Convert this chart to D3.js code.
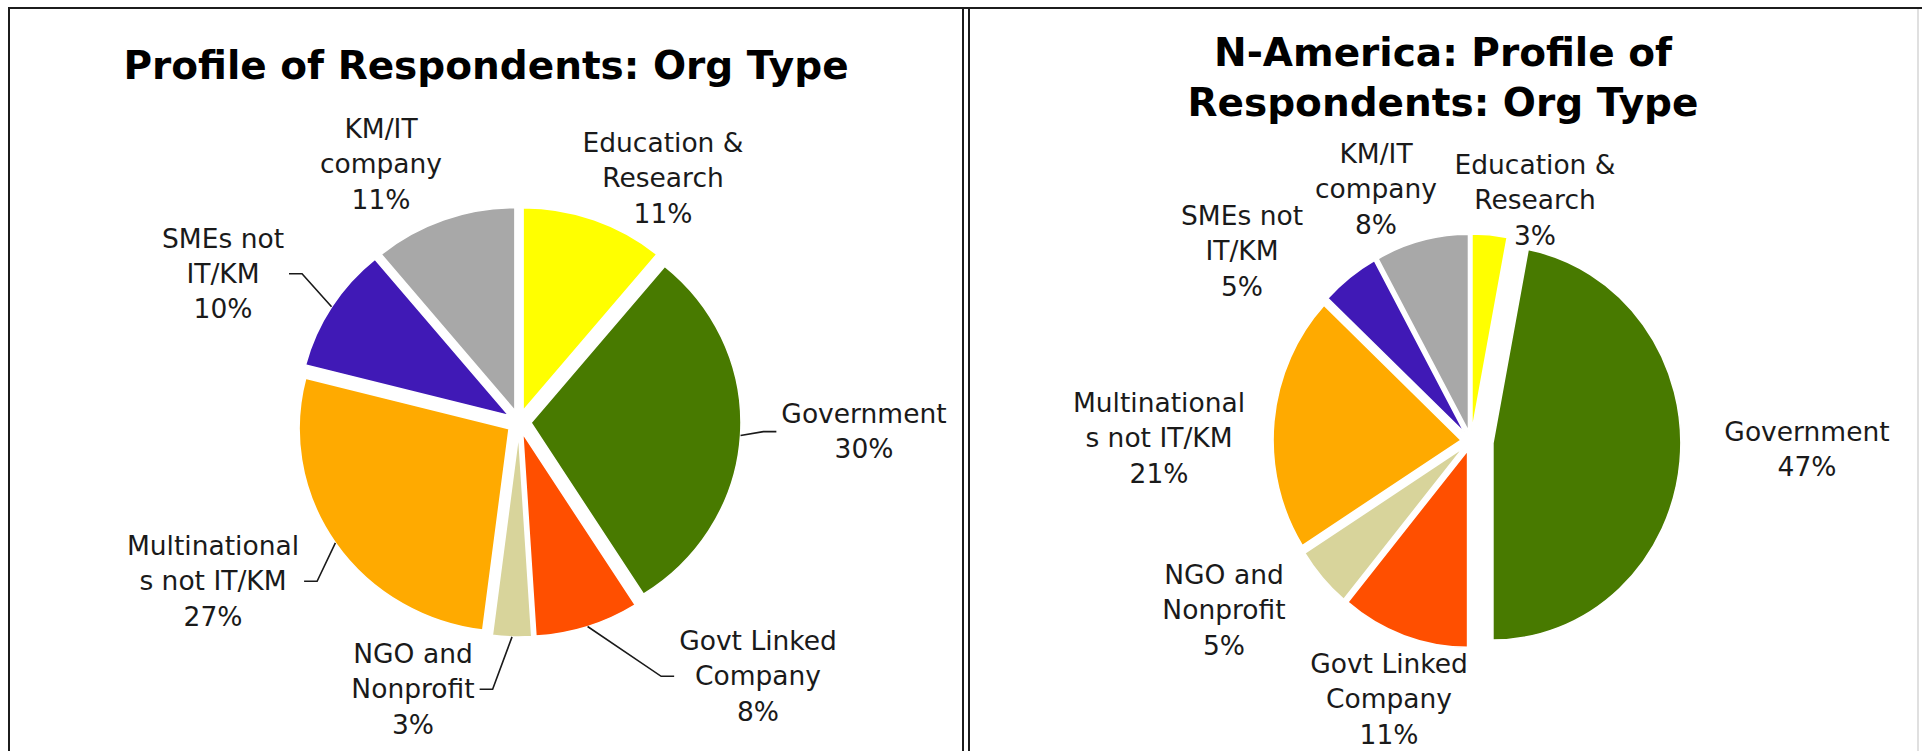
<!DOCTYPE html>
<html>
<head>
<meta charset="utf-8">
<script src="https://cdn.jsdelivr.net/npm/d3@7"></script>
<style>
  html, body { margin: 0; padding: 0; background: #fff; }
  svg { display: block; }
</style>
</head>
<body>
<svg id="chart" width="1922" height="751"></svg>
<script>
// Organisation types, clockwise from 12 o'clock
const categories = [
  "Education & Research", "Government", "Govt Linked Company", "NGO and Nonprofit",
  "Multinationals not IT/KM", "SMEs not IT/KM", "KM/IT company"
];
// How each category name is broken over lines in the slice labels
const labelLines = [
  ["Education &", "Research"], ["Government"], ["Govt Linked", "Company"],
  ["NGO and", "Nonprofit"], ["Multinational", "s not IT/KM"], ["SMEs not", "IT/KM"],
  ["KM/IT", "company"]
];
// Share of respondents (%) per organisation type
const allRespondentsValues = [11, 30, 8, 3, 27, 10, 11];
const northAmericaValues   = [3, 47, 11, 5, 21, 5, 8];

const sliceColors = ["#ffff00", "#487a00", "#ff4f00", "#d8d49b", "#ffaa00", "#4019b6", "#a8a8a8"];

// Layout of the two pie panels
const charts = [
  {
    title: ["Profile of Respondents: Org Type"],
    titleX: 486, titleY: [79],
    values: allRespondentsValues,
    cx: 519, cy: 422, rx: 210, ry: 203,
    explode: 12, extraExplode: {},
    // label block centre relative to pie centre (first line)
    labelPos: [[144, -279], [345, -8], [239, 219], [-106, 232], [-306, 124], [-296, -183.5], [-138, -293]],
    leaders: [false, true, true, true, true, true, false]
  },
  {
    title: ["N-America: Profile of", "Respondents: Org Type"],
    titleX: 1443, titleY: [66, 116],
    values: northAmericaValues,
    cx: 1471, cy: 441, rx: 188, ry: 197,
    explode: 10, extraExplode: { 1: 22 },
    labelPos: [[64, -276], [336, -9], [-82, 223], [-247, 134], [-312, -38], [-229, -225], [-95, -287]],
    leaders: [false, false, false, false, false, false, false]
  }
];

const svg = d3.select("#chart");
const lineGap = 35.3;
const labelFont = "'DejaVu Sans', Verdana, sans-serif";

// panel frames
const frame = svg.append("g").attr("stroke", "#1c1c1c").attr("stroke-width", 2);
frame.append("line").attr("x1", 8).attr("x2", 1922).attr("y1", 8).attr("y2", 8);
[9, 963, 969].forEach(x =>
  frame.append("line").attr("x1", x).attr("x2", x).attr("y1", 7).attr("y2", 751));
svg.append("line").attr("x1", 1918).attr("x2", 1918).attr("y1", 9).attr("y2", 751)
  .attr("stroke", "#d6d6d6").attr("stroke-width", 1.5);

const pie = d3.pie().sort(null).value(d => d);

charts.forEach(cfg => {
  const g = svg.append("g");

  // title
  cfg.title.forEach((t, i) => {
    g.append("text")
      .attr("x", cfg.titleX).attr("y", cfg.titleY[i])
      .attr("text-anchor", "middle")
      .attr("font-family", labelFont).attr("font-weight", "bold")
      .attr("font-size", 39).attr("fill", "#000")
      .text(t);
  });

  const sx = cfg.rx / cfg.ry;
  const arc = d3.arc().innerRadius(0).outerRadius(cfg.ry);
  const arcs = pie(cfg.values);

  const pieG = g.append("g").attr("transform", `translate(${cfg.cx},${cfg.cy})`);

  arcs.forEach((a, i) => {
    const mid = (a.startAngle + a.endAngle) / 2;
    const e = cfg.explode + (cfg.extraExplode[i] ? cfg.extraExplode[i] - cfg.explode : 0);
    a.mid = mid;
    a.ox = e * Math.sin(mid);
    a.oy = -e * Math.cos(mid);
    pieG.append("g")
      .attr("transform", `translate(${a.ox},${a.oy}) scale(${sx},1)`)
      .append("path")
      .attr("d", arc(a))
      .attr("fill", sliceColors[i])
      .attr("stroke", "#ffffff")
      .attr("stroke-width", 1.6)
      .attr("vector-effect", "non-scaling-stroke")
      .attr("stroke-linejoin", "round");
  });

  // labels
  arcs.forEach((a, i) => {
    const [dx, dy] = cfg.labelPos[i];
    const lx = cfg.cx + dx, ly = cfg.cy + dy;
    const lines = labelLines[i].concat([cfg.values[i] + "%"]);
    const tg = g.append("g");
    let maxW = 0;
    lines.forEach((s, k) => {
      const t = tg.append("text")
        .attr("x", lx).attr("y", ly + k * lineGap + 9)
        .attr("text-anchor", "middle")
        .attr("font-family", labelFont)
        .attr("font-size", 26.5).attr("fill", "#1a1a1a")
        .text(s);
      maxW = Math.max(maxW, t.node().getComputedTextLength());
    });

    if (cfg.leaders[i]) {
      const midY = ly + (lines.length - 1) / 2 * lineGap;
      const px = cfg.cx + a.ox + cfg.rx * Math.sin(a.mid);
      const py = cfg.cy + a.oy - cfg.ry * Math.cos(a.mid);
      const side = dx < 0 ? 1 : -1;  // label left of pie -> hook on its right
      const hx0 = lx + side * (maxW / 2 + 5);
      const hx1 = hx0 + side * 13;
      g.append("path")
        .attr("d", d3.line()([[hx0, midY], [hx1, midY], [px, py]]))
        .attr("fill", "none").attr("stroke", "#1a1a1a").attr("stroke-width", 1.6);
    }
  });
});
</script>
</body>
</html>
